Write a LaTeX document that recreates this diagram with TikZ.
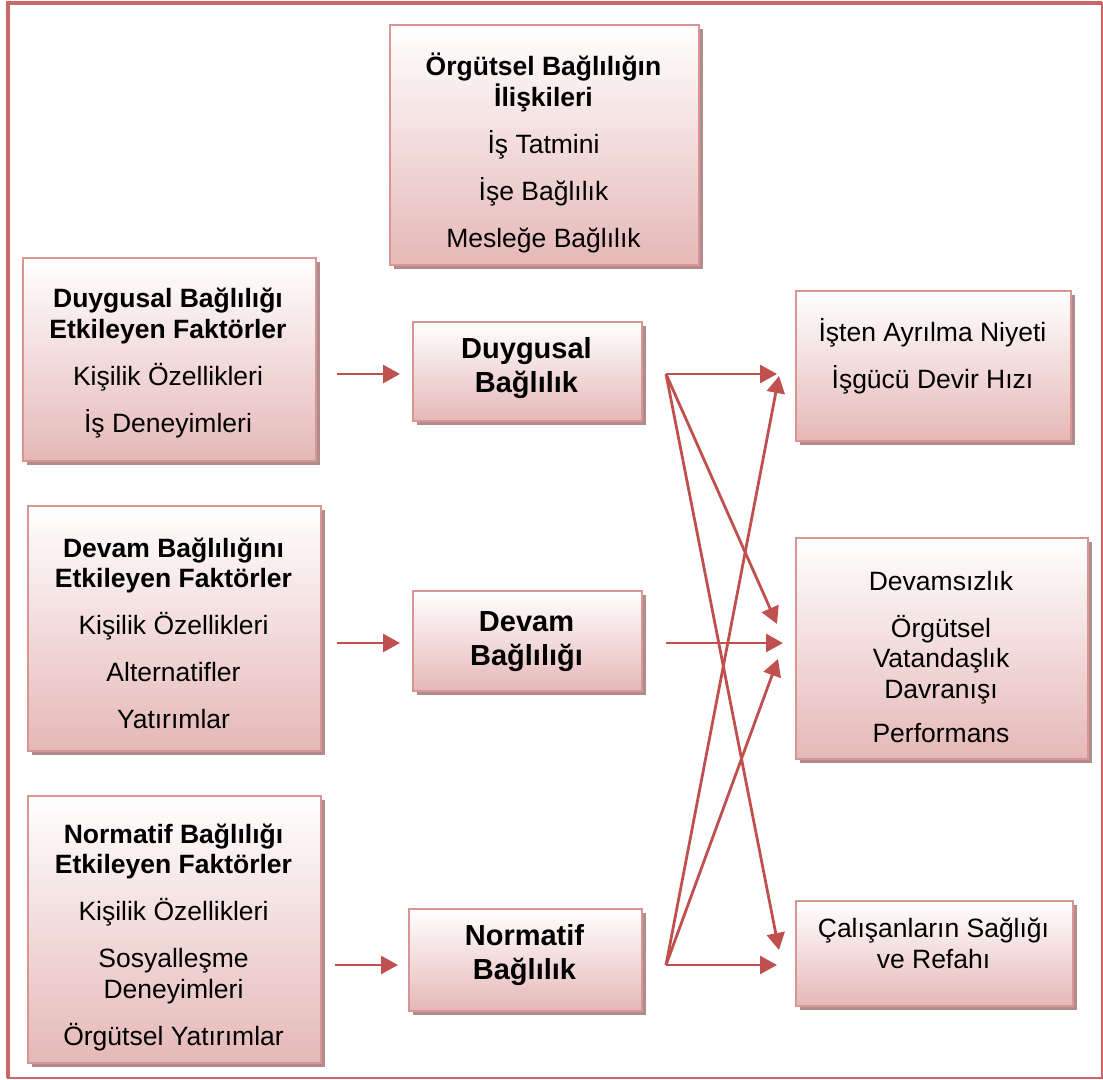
\documentclass[tikz,border=0pt]{standalone}
\usepackage{fontspec}
\setmainfont{Liberation Sans}
\usetikzlibrary{arrows.meta,shadows,calc}

\definecolor{boxline}{RGB}{217,149,148}
\definecolor{boxfill}{RGB}{229,184,183}
\definecolor{boxshadow}{RGB}{176,140,140}
\definecolor{arrowred}{RGB}{192,80,77}
\definecolor{framered}{RGB}{201,104,102}

\begin{document}
\begin{tikzpicture}[x=1pt,y=-1pt,
  box/.style={draw=boxline, line width=2.2pt, top color=white, bottom color=boxfill,
    anchor=north west, inner sep=0pt,
    drop shadow={shadow xshift=4pt, shadow yshift=-4pt, fill=boxshadow, opacity=1}},
  txt/.style={align=center, font=\fontsize{26.5}{30.5}\selectfont, inner sep=0pt},
  bigtxt/.style={align=center, font=\fontsize{29}{34}\selectfont\bfseries, inner sep=0pt},
  arr/.style={draw=arrowred, line width=2.8pt, -{Triangle[length=17pt,width=18pt]}}]

\useasboundingbox (0,0) rectangle (1103,1079);

% outer frame
\draw[framered, line width=2pt] (8,3) rectangle (1101.5,1077.5);
\draw[framered, line width=4pt] (8,1077.5) -- (8,3) -- (1101.5,3);

% boxes
\node[box, minimum width=309pt, minimum height=240pt] (rel) at (389,24) {};
\node[box, minimum width=293pt, minimum height=203pt] (fD) at (22,257) {};
\node[box, minimum width=293pt, minimum height=245pt] (fC) at (27,505) {};
\node[box, minimum width=293pt, minimum height=267pt] (fN) at (27,795) {};
\node[box, minimum width=229pt, minimum height=99pt] (cD) at (412,321) {};
\node[box, minimum width=229pt, minimum height=100pt] (cC) at (412,590) {};
\node[box, minimum width=233pt, minimum height=102pt] (cN) at (408,908) {};
\node[box, minimum width=275pt, minimum height=150pt] (oT) at (795,290) {};
\node[box, minimum width=292pt, minimum height=221pt] (oM) at (795,537) {};
\node[box, minimum width=277pt, minimum height=105pt] (oB) at (795,900) {};

% box texts
\node[txt] (relT) at (543.5,153) {\textbf{Örgütsel Bağlılığın}\\\textbf{İlişkileri}\\[16.5pt]İş Tatmini\\[16.5pt]İşe Bağlılık\\[16.5pt]Mesleğe Bağlılık};
\node[txt] (fDT) at (168,363) {\textbf{Duygusal Bağlılığı}\\\textbf{Etkileyen Faktörler}\\[16.5pt]Kişilik Özellikleri\\[16.5pt]İş Deneyimleri};
\node[txt] (fCT) at (173.5,633.5) {\textbf{Devam Bağlılığını}\\\textbf{Etkileyen Faktörler}\\[16.5pt]Kişilik Özellikleri\\[16.5pt]Alternatifler\\[16.5pt]Yatırımlar};
\node[txt] (fNT) at (173.5,937) {\textbf{Normatif Bağlılığı}\\\textbf{Etkileyen Faktörler}\\[16.5pt]Kişilik Özellikleri\\[16.5pt]Sosyalleşme\\Deneyimleri\\[16.5pt]Örgütsel Yatırımlar};
\node[bigtxt] (cDT) at (526.5,368) {Duygusal\\Bağlılık};
\node[bigtxt] (cCT) at (526.5,642) {Devam\\Bağlılığı};
\node[bigtxt] (cNT) at (524.5,955) {Normatif\\Bağlılık};
\node[txt] (oTT) at (932.5,356) {İşten Ayrılma Niyeti\\[16.5pt]İşgücü Devir Hızı};
\node[txt] (oMT) at (941,657.5) {Devamsızlık\\[16pt]Örgütsel\\Vatandaşlık\\Davranışı\\[14pt]Performans};
\node[txt] (oBT) at (933.5,943.5) {Çalışanların Sağlığı\\ve Refahı};

% arrow hubs and tips
\coordinate (hD) at (666,374);
\coordinate (hC) at (666,643);
\coordinate (hN) at (666,965);
\coordinate (tTd) at (777,374);
\coordinate (tTn) at (779,376);
\coordinate (tMd) at (777,624);
\coordinate (tMc) at (783,643);
\coordinate (tMn) at (778,659);
\coordinate (tBd) at (779,950);
\coordinate (tBn) at (777,965);

% factors to commitment types
\draw[arr] ($(fD.east |- hD)+(20,0)$) -- ($(cD.west |- hD)+(-12,0)$);
\draw[arr] ($(fC.east |- hC)+(15,0)$) -- ($(cC.west |- hC)+(-12,0)$);
\draw[arr] ($(fN.east |- hN)+(13,0)$) -- ($(cN.west |- hN)+(-10,0)$);

% commitment types to outcomes
\draw[arr] (hD) -- (tTd);
\draw[arr] (hD) -- (tMd);
\draw[arr] (hD) -- (tBd);
\draw[arr] (hC) -- (tMc);
\draw[arr] (hN) -- (tBn);
\draw[arr] (hN) -- (tTn);
\draw[arr] (hN) -- (tMn);
\end{tikzpicture}
\end{document}
